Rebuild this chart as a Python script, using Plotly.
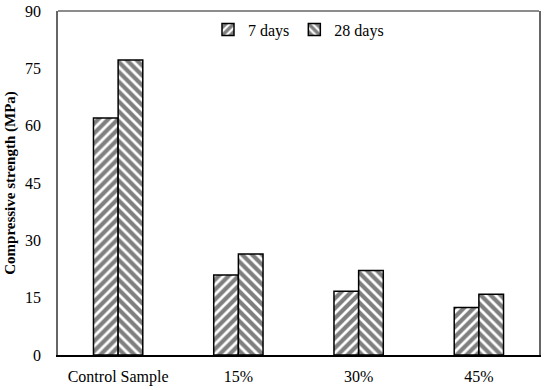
import plotly.graph_objects as go

categories = ["Control Sample", "15%", "30%", "45%"]
days7 = [62.0, 20.9, 16.7, 12.4]
days28 = [77.2, 26.4, 22.1, 15.9]
yticks = [0, 15, 30, 45, 60, 75, 90]

font_family = "Liberation Serif"

fig = go.Figure()
fig.add_trace(go.Bar(
    x=categories, y=days7, name="7 days",
    marker=dict(color="white", line=dict(color="black", width=1.5),
                pattern=dict(shape="/", fgcolor="black", bgcolor="white", size=7, solidity=0.6)),
))
fig.add_trace(go.Bar(
    x=categories, y=days28, name="28 days",
    marker=dict(color="white", line=dict(color="black", width=1.5),
                pattern=dict(shape="\\", fgcolor="black", bgcolor="white", size=7, solidity=0.6)),
))

fig.update_layout(
    width=550, height=390,
    margin=dict(l=58, r=11, t=11, b=35),
    paper_bgcolor="white", plot_bgcolor="white",
    barmode="group", bargap=0.59, bargroupgap=0,
    font=dict(family=font_family, size=16, color="black"),
    showlegend=True,
    legend=dict(orientation="h", x=0.5, xanchor="center", y=0.995, yanchor="top",
                bgcolor="rgba(0,0,0,0)", font=dict(family=font_family, size=16), itemwidth=30,
                traceorder="normal"),
    xaxis=dict(showline=True, linecolor="black", linewidth=1.5, ticks="", automargin=False,
               showgrid=False, zeroline=False, tickfont=dict(family=font_family, size=16),
               ticklabelstandoff=6),
    yaxis=dict(range=[0, 90], tickvals=yticks, showline=True, linecolor="#666666",
               linewidth=1.5, mirror=True, ticks="", showgrid=False, zeroline=False,
               automargin=False, tickfont=dict(family=font_family, size=16), ticklabelstandoff=12,
               title=dict(text="<b>Compressive strength (MPa)</b>",
                          font=dict(family=font_family, size=15), standoff=6)),
    shapes=[dict(type="line", xref="paper", yref="paper", x0=0, x1=1, y0=1, y1=1,
                 line=dict(color="#666666", width=1.5))],
)

fig.write_html("out.html", config={"displayModeBar": False},
               post_script="document.body.style.margin='0';document.body.style.padding='0';")
